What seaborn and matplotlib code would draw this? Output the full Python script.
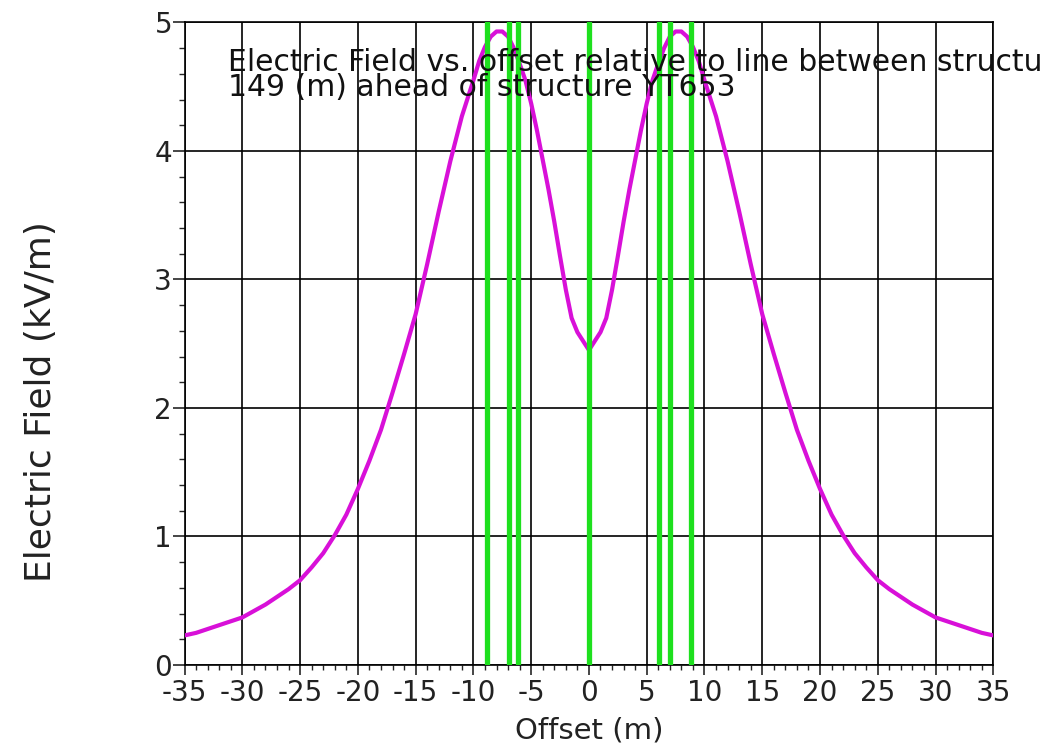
import numpy as np
import pandas as pd
import seaborn as sns
import matplotlib
matplotlib.use("Agg")
import matplotlib.pyplot as plt
from matplotlib.ticker import MultipleLocator

# offset (m) and field (kV/m)
offset = [-35, -34, -33, -32, -31, -30, -29, -28, -27, -26, -25, -24, -23, -22, -21,
          -20, -19, -18, -17, -16, -15, -14, -13, -12, -11, -10, -9.5, -9, -8.5, -8,
          -7.5, -7, -6.5, -6, -5.5, -5, -4.5, -4, -3.5, -3, -2.5, -2, -1.5, -1, -0.5,
          0,
          0.5, 1, 1.5, 2, 2.5, 3, 3.5, 4, 4.5, 5, 5.5, 6, 6.5, 7, 7.5,
          8, 8.5, 9, 9.5, 10, 11, 12, 13, 14, 15, 16, 17, 18, 19, 20,
          21, 22, 23, 24, 25, 26, 27, 28, 29, 30, 31, 32, 33, 34, 35]
field = [0.23, 0.25, 0.28, 0.31, 0.34, 0.37, 0.42, 0.47, 0.53, 0.59, 0.66, 0.76, 0.87, 1.01, 1.17,
         1.37, 1.59, 1.83, 2.12, 2.42, 2.73, 3.12, 3.53, 3.92, 4.27, 4.55, 4.70, 4.81, 4.89, 4.93,
         4.93, 4.89, 4.80, 4.68, 4.55, 4.37, 4.16, 3.93, 3.70, 3.45, 3.18, 2.92, 2.70, 2.59, 2.52,
         2.45,
         2.52, 2.59, 2.70, 2.92, 3.18, 3.45, 3.70, 3.93, 4.16, 4.37, 4.55, 4.68, 4.80, 4.89, 4.93,
         4.93, 4.89, 4.81, 4.70, 4.55, 4.27, 3.92, 3.53, 3.12, 2.73, 2.42, 2.12, 1.83, 1.59, 1.37,
         1.17, 1.01, 0.87, 0.76, 0.66, 0.59, 0.53, 0.47, 0.42, 0.37, 0.34, 0.31, 0.28, 0.25, 0.23]

# conductor positions (green verticals)
conductors = [-8.8, -6.9, -6.1, 0, 6.1, 7.0, 8.8]

x_ticks = list(range(-35, 36, 5))
y_ticks = [0, 1, 2, 3, 4, 5]

note = "Electric Field vs. offset relative to line between structures\n149 (m) ahead of structure YT653"

sns.set_style("white")
plt.rcParams['font.family'] = ['DejaVu Sans']
plt.rcParams['axes.unicode_minus'] = False

df = pd.DataFrame({"Offset (m)": offset, "Electric Field (kV/m)": field})

fig = plt.figure(figsize=(10.41, 7.47), dpi=100)
ax = fig.add_axes([0.1773, 0.1098, 0.7769, 0.8601])

ax.grid(True, which="major", color="black", linewidth=1.2, zorder=1)
ax.set_axisbelow(True)

sns.lineplot(data=df, x="Offset (m)", y="Electric Field (kV/m)", ax=ax,
             color="#d810d8", linewidth=3.0, zorder=3, sort=False)

for c in conductors:
    ax.axvline(c, color="#1ee01e", linewidth=3.8, zorder=4)

# the note runs past the right edge of the figure, as in the original
ax.text(-31.25, 4.80, note, fontsize=21.5, va="top", ha="left",
        linespacing=0.8, color="#111111", zorder=5, clip_on=False)

ax.set_xlim(-35, 35)
ax.set_ylim(0, 5)
ax.set_xticks(x_ticks)
ax.set_yticks(y_ticks)
ax.xaxis.set_minor_locator(MultipleLocator(1))
ax.yaxis.set_minor_locator(MultipleLocator(0.2))
ax.tick_params(axis="x", which="major", direction="out", length=7, width=1.2,
               labelsize=20, pad=3, bottom=True, labelcolor="#222222")
ax.tick_params(axis="x", which="minor", direction="out", length=3.6, width=1.0, bottom=True)
ax.tick_params(axis="y", which="major", direction="out", length=9, width=1.2,
               labelsize=20, pad=0, left=True, labelcolor="#222222")
ax.tick_params(axis="y", which="minor", direction="out", length=4.5, width=1.0, left=True)

for s in ax.spines.values():
    s.set_color("black")
    s.set_linewidth(1.2)

ax.set_xlabel("Offset (m)", fontsize=21, color="#222222")
ax.set_ylabel("Electric Field (kV/m)", fontsize=26, color="#222222")
ax.xaxis.set_label_coords(0.5, -0.08)
ax.yaxis.set_label_coords(-0.156, 0.41)

fig.savefig("out.png", dpi=100)
